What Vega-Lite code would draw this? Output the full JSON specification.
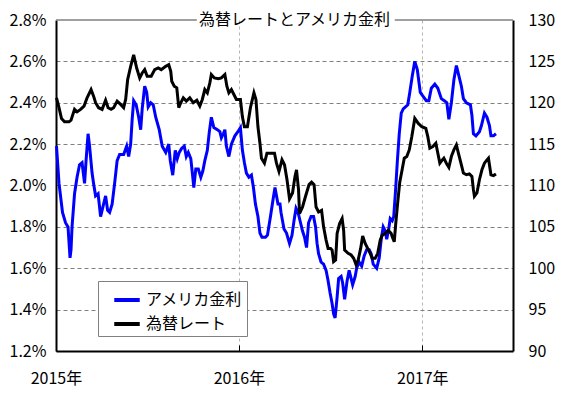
{
  "$schema": "https://vega.github.io/schema/vega-lite/v6.json",
  "width": 457,
  "height": 331,
  "autosize": {"type": "none"},
  "padding": {"left": 56, "top": 20, "right": 53, "bottom": 46},
  "background": "white",
  "config": {
    "font": "Noto Sans CJK JP",
    "view": {"stroke": null}
  },
  "title": {
    "text": "為替レートとアメリカ金利",
    "fontSize": 16,
    "fontWeight": "normal",
    "color": "black",
    "anchor": "middle",
    "frame": "group",
    "offset": -16,
    "dx": 10
  },
  "datasets": {
    "rate": [
      {"date": "2015-01-02", "value": 2.19}, {"date": "2015-01-07", "value": 2.01}, {"date": "2015-01-14", "value": 1.87},
      {"date": "2015-01-20", "value": 1.82}, {"date": "2015-01-25", "value": 1.80}, {"date": "2015-01-29", "value": 1.65},
      {"date": "2015-01-31", "value": 1.69}, {"date": "2015-02-02", "value": 1.80}, {"date": "2015-02-07", "value": 1.96},
      {"date": "2015-02-12", "value": 2.04}, {"date": "2015-02-17", "value": 2.10}, {"date": "2015-02-22", "value": 2.11},
      {"date": "2015-02-27", "value": 2.01}, {"date": "2015-03-02", "value": 2.12}, {"date": "2015-03-06", "value": 2.25},
      {"date": "2015-03-09", "value": 2.19}, {"date": "2015-03-14", "value": 2.06}, {"date": "2015-03-17", "value": 2.01},
      {"date": "2015-03-21", "value": 1.95}, {"date": "2015-03-26", "value": 1.96}, {"date": "2015-03-31", "value": 1.85},
      {"date": "2015-04-05", "value": 1.90}, {"date": "2015-04-10", "value": 1.95}, {"date": "2015-04-14", "value": 1.88},
      {"date": "2015-04-18", "value": 1.87}, {"date": "2015-04-23", "value": 1.91}, {"date": "2015-04-28", "value": 2.01},
      {"date": "2015-05-03", "value": 2.12}, {"date": "2015-05-08", "value": 2.15}, {"date": "2015-05-16", "value": 2.15},
      {"date": "2015-05-22", "value": 2.19}, {"date": "2015-05-26", "value": 2.14}, {"date": "2015-05-30", "value": 2.20},
      {"date": "2015-06-02", "value": 2.32}, {"date": "2015-06-05", "value": 2.41}, {"date": "2015-06-10", "value": 2.39},
      {"date": "2015-06-15", "value": 2.33}, {"date": "2015-06-19", "value": 2.27}, {"date": "2015-06-22", "value": 2.37},
      {"date": "2015-06-27", "value": 2.48}, {"date": "2015-07-01", "value": 2.45}, {"date": "2015-07-04", "value": 2.38},
      {"date": "2015-07-09", "value": 2.40}, {"date": "2015-07-14", "value": 2.39}, {"date": "2015-07-19", "value": 2.33},
      {"date": "2015-07-26", "value": 2.27}, {"date": "2015-08-01", "value": 2.19}, {"date": "2015-08-08", "value": 2.16},
      {"date": "2015-08-14", "value": 2.20}, {"date": "2015-08-17", "value": 2.12}, {"date": "2015-08-22", "value": 2.05},
      {"date": "2015-08-27", "value": 2.17}, {"date": "2015-08-31", "value": 2.13}, {"date": "2015-09-04", "value": 2.16},
      {"date": "2015-09-09", "value": 2.18}, {"date": "2015-09-14", "value": 2.19}, {"date": "2015-09-18", "value": 2.14},
      {"date": "2015-09-22", "value": 2.16}, {"date": "2015-09-27", "value": 2.13}, {"date": "2015-10-01", "value": 2.04},
      {"date": "2015-10-03", "value": 1.99}, {"date": "2015-10-07", "value": 2.08}, {"date": "2015-10-12", "value": 2.08},
      {"date": "2015-10-17", "value": 2.04}, {"date": "2015-10-21", "value": 2.07}, {"date": "2015-10-25", "value": 2.12},
      {"date": "2015-10-30", "value": 2.17}, {"date": "2015-11-03", "value": 2.26}, {"date": "2015-11-07", "value": 2.33},
      {"date": "2015-11-12", "value": 2.28}, {"date": "2015-11-19", "value": 2.27}, {"date": "2015-11-24", "value": 2.26},
      {"date": "2015-11-27", "value": 2.23}, {"date": "2015-12-01", "value": 2.25}, {"date": "2015-12-04", "value": 2.27},
      {"date": "2015-12-07", "value": 2.19}, {"date": "2015-12-12", "value": 2.14}, {"date": "2015-12-17", "value": 2.20},
      {"date": "2015-12-24", "value": 2.24}, {"date": "2015-12-30", "value": 2.26}, {"date": "2016-01-04", "value": 2.28},
      {"date": "2016-01-08", "value": 2.17}, {"date": "2016-01-12", "value": 2.11}, {"date": "2016-01-16", "value": 2.06},
      {"date": "2016-01-21", "value": 2.04}, {"date": "2016-01-26", "value": 2.05}, {"date": "2016-01-30", "value": 1.99},
      {"date": "2016-02-03", "value": 1.91}, {"date": "2016-02-08", "value": 1.85}, {"date": "2016-02-12", "value": 1.77},
      {"date": "2016-02-16", "value": 1.75}, {"date": "2016-02-23", "value": 1.75}, {"date": "2016-02-27", "value": 1.76},
      {"date": "2016-03-04", "value": 1.85}, {"date": "2016-03-09", "value": 1.93}, {"date": "2016-03-13", "value": 1.99},
      {"date": "2016-03-16", "value": 1.95}, {"date": "2016-03-19", "value": 1.91}, {"date": "2016-03-23", "value": 1.91},
      {"date": "2016-03-25", "value": 1.87}, {"date": "2016-03-31", "value": 1.79}, {"date": "2016-04-05", "value": 1.77},
      {"date": "2016-04-11", "value": 1.72}, {"date": "2016-04-16", "value": 1.76}, {"date": "2016-04-20", "value": 1.83},
      {"date": "2016-04-24", "value": 1.89}, {"date": "2016-04-28", "value": 1.87}, {"date": "2016-05-03", "value": 1.82},
      {"date": "2016-05-07", "value": 1.78}, {"date": "2016-05-11", "value": 1.75}, {"date": "2016-05-15", "value": 1.70},
      {"date": "2016-05-19", "value": 1.82}, {"date": "2016-05-24", "value": 1.85}, {"date": "2016-05-29", "value": 1.85},
      {"date": "2016-06-02", "value": 1.80}, {"date": "2016-06-05", "value": 1.72}, {"date": "2016-06-08", "value": 1.67},
      {"date": "2016-06-13", "value": 1.63}, {"date": "2016-06-18", "value": 1.62}, {"date": "2016-06-23", "value": 1.59},
      {"date": "2016-06-27", "value": 1.54}, {"date": "2016-07-01", "value": 1.48}, {"date": "2016-07-05", "value": 1.43},
      {"date": "2016-07-08", "value": 1.38}, {"date": "2016-07-11", "value": 1.36}, {"date": "2016-07-15", "value": 1.46},
      {"date": "2016-07-18", "value": 1.55}, {"date": "2016-07-23", "value": 1.56}, {"date": "2016-07-26", "value": 1.53},
      {"date": "2016-07-30", "value": 1.45}, {"date": "2016-08-04", "value": 1.54}, {"date": "2016-08-08", "value": 1.59},
      {"date": "2016-08-12", "value": 1.55}, {"date": "2016-08-15", "value": 1.52}, {"date": "2016-08-20", "value": 1.56},
      {"date": "2016-08-23", "value": 1.60}, {"date": "2016-08-28", "value": 1.63}, {"date": "2016-09-02", "value": 1.61},
      {"date": "2016-09-07", "value": 1.66}, {"date": "2016-09-12", "value": 1.69}, {"date": "2016-09-17", "value": 1.69},
      {"date": "2016-09-21", "value": 1.67}, {"date": "2016-09-25", "value": 1.62}, {"date": "2016-10-02", "value": 1.60},
      {"date": "2016-10-07", "value": 1.65}, {"date": "2016-10-11", "value": 1.74}, {"date": "2016-10-15", "value": 1.80},
      {"date": "2016-10-19", "value": 1.78}, {"date": "2016-10-22", "value": 1.74}, {"date": "2016-10-26", "value": 1.79},
      {"date": "2016-10-29", "value": 1.84}, {"date": "2016-11-02", "value": 1.83}, {"date": "2016-11-05", "value": 1.85},
      {"date": "2016-11-09", "value": 1.99}, {"date": "2016-11-12", "value": 2.11}, {"date": "2016-11-16", "value": 2.25},
      {"date": "2016-11-20", "value": 2.35}, {"date": "2016-11-24", "value": 2.37}, {"date": "2016-12-03", "value": 2.39},
      {"date": "2016-12-07", "value": 2.45}, {"date": "2016-12-12", "value": 2.53}, {"date": "2016-12-17", "value": 2.60},
      {"date": "2016-12-22", "value": 2.56}, {"date": "2016-12-28", "value": 2.45}, {"date": "2017-01-03", "value": 2.43},
      {"date": "2017-01-09", "value": 2.41}, {"date": "2017-01-14", "value": 2.41}, {"date": "2017-01-19", "value": 2.47},
      {"date": "2017-01-26", "value": 2.49}, {"date": "2017-02-01", "value": 2.47}, {"date": "2017-02-08", "value": 2.42},
      {"date": "2017-02-14", "value": 2.41}, {"date": "2017-02-19", "value": 2.40}, {"date": "2017-02-23", "value": 2.32},
      {"date": "2017-02-28", "value": 2.40}, {"date": "2017-03-05", "value": 2.51}, {"date": "2017-03-10", "value": 2.58},
      {"date": "2017-03-15", "value": 2.53}, {"date": "2017-03-20", "value": 2.48}, {"date": "2017-03-24", "value": 2.42},
      {"date": "2017-03-30", "value": 2.40}, {"date": "2017-04-07", "value": 2.39}, {"date": "2017-04-10", "value": 2.34},
      {"date": "2017-04-13", "value": 2.25}, {"date": "2017-04-18", "value": 2.24}, {"date": "2017-04-25", "value": 2.26},
      {"date": "2017-04-29", "value": 2.29}, {"date": "2017-05-05", "value": 2.35}, {"date": "2017-05-10", "value": 2.33},
      {"date": "2017-05-15", "value": 2.29}, {"date": "2017-05-18", "value": 2.24}, {"date": "2017-05-23", "value": 2.24},
      {"date": "2017-05-28", "value": 2.25}
    ],
    "fx": [
      {"date": "2015-01-02", "value": 120.6}, {"date": "2015-01-07", "value": 119.4}, {"date": "2015-01-12", "value": 118.1},
      {"date": "2015-01-18", "value": 117.7}, {"date": "2015-01-27", "value": 117.7}, {"date": "2015-01-31", "value": 117.9},
      {"date": "2015-02-07", "value": 119.2}, {"date": "2015-02-12", "value": 118.9}, {"date": "2015-02-19", "value": 119.2},
      {"date": "2015-02-26", "value": 119.6}, {"date": "2015-03-04", "value": 120.6}, {"date": "2015-03-12", "value": 121.6},
      {"date": "2015-03-17", "value": 120.8}, {"date": "2015-03-21", "value": 120.0}, {"date": "2015-03-27", "value": 119.4},
      {"date": "2015-04-03", "value": 119.2}, {"date": "2015-04-10", "value": 120.3}, {"date": "2015-04-15", "value": 119.4},
      {"date": "2015-04-21", "value": 119.2}, {"date": "2015-04-26", "value": 119.4}, {"date": "2015-05-03", "value": 120.2},
      {"date": "2015-05-10", "value": 119.8}, {"date": "2015-05-16", "value": 119.4}, {"date": "2015-05-20", "value": 120.4},
      {"date": "2015-05-24", "value": 122.8}, {"date": "2015-05-30", "value": 124.4}, {"date": "2015-06-05", "value": 125.8},
      {"date": "2015-06-11", "value": 124.2}, {"date": "2015-06-17", "value": 123.0}, {"date": "2015-06-22", "value": 123.6},
      {"date": "2015-06-27", "value": 124.0}, {"date": "2015-07-02", "value": 123.2}, {"date": "2015-07-10", "value": 123.2},
      {"date": "2015-07-17", "value": 124.0}, {"date": "2015-07-24", "value": 124.2}, {"date": "2015-07-30", "value": 124.0},
      {"date": "2015-08-08", "value": 124.4}, {"date": "2015-08-14", "value": 124.6}, {"date": "2015-08-18", "value": 123.8},
      {"date": "2015-08-20", "value": 122.6}, {"date": "2015-08-25", "value": 122.0}, {"date": "2015-08-30", "value": 121.8},
      {"date": "2015-09-03", "value": 119.4}, {"date": "2015-09-07", "value": 120.0}, {"date": "2015-09-12", "value": 120.6},
      {"date": "2015-09-18", "value": 120.2}, {"date": "2015-09-25", "value": 120.6}, {"date": "2015-10-02", "value": 120.0},
      {"date": "2015-10-09", "value": 120.3}, {"date": "2015-10-15", "value": 119.6}, {"date": "2015-10-20", "value": 120.4},
      {"date": "2015-10-25", "value": 121.6}, {"date": "2015-10-30", "value": 121.2}, {"date": "2015-11-04", "value": 122.4},
      {"date": "2015-11-07", "value": 123.4}, {"date": "2015-11-13", "value": 123.0}, {"date": "2015-11-21", "value": 122.9},
      {"date": "2015-11-27", "value": 123.0}, {"date": "2015-12-04", "value": 123.4}, {"date": "2015-12-08", "value": 122.0},
      {"date": "2015-12-12", "value": 121.2}, {"date": "2015-12-17", "value": 121.6}, {"date": "2015-12-22", "value": 121.0},
      {"date": "2015-12-27", "value": 120.4}, {"date": "2016-01-04", "value": 120.4}, {"date": "2016-01-08", "value": 118.3},
      {"date": "2016-01-12", "value": 117.1}, {"date": "2016-01-18", "value": 117.1}, {"date": "2016-01-24", "value": 119.4},
      {"date": "2016-01-31", "value": 121.2}, {"date": "2016-02-04", "value": 120.4}, {"date": "2016-02-08", "value": 117.1},
      {"date": "2016-02-12", "value": 115.1}, {"date": "2016-02-15", "value": 113.3}, {"date": "2016-02-21", "value": 112.7},
      {"date": "2016-02-26", "value": 113.9}, {"date": "2016-03-04", "value": 113.9}, {"date": "2016-03-12", "value": 113.9},
      {"date": "2016-03-16", "value": 112.7}, {"date": "2016-03-21", "value": 111.7}, {"date": "2016-03-27", "value": 113.1},
      {"date": "2016-04-01", "value": 112.5}, {"date": "2016-04-06", "value": 110.7}, {"date": "2016-04-11", "value": 108.4},
      {"date": "2016-04-17", "value": 109.1}, {"date": "2016-04-22", "value": 111.1}, {"date": "2016-04-25", "value": 111.9},
      {"date": "2016-04-29", "value": 109.5}, {"date": "2016-05-01", "value": 106.6}, {"date": "2016-05-07", "value": 107.4},
      {"date": "2016-05-13", "value": 108.7}, {"date": "2016-05-20", "value": 110.1}, {"date": "2016-05-25", "value": 110.4},
      {"date": "2016-05-30", "value": 110.1}, {"date": "2016-06-03", "value": 107.4}, {"date": "2016-06-08", "value": 106.8},
      {"date": "2016-06-14", "value": 107.0}, {"date": "2016-06-18", "value": 105.0}, {"date": "2016-06-23", "value": 103.4},
      {"date": "2016-06-27", "value": 102.4}, {"date": "2016-07-02", "value": 102.4}, {"date": "2016-07-05", "value": 102.2},
      {"date": "2016-07-08", "value": 100.8}, {"date": "2016-07-12", "value": 101.0}, {"date": "2016-07-15", "value": 104.2},
      {"date": "2016-07-20", "value": 105.4}, {"date": "2016-07-25", "value": 106.0}, {"date": "2016-07-28", "value": 104.6},
      {"date": "2016-07-30", "value": 102.2}, {"date": "2016-08-06", "value": 101.8}, {"date": "2016-08-12", "value": 101.6},
      {"date": "2016-08-17", "value": 101.2}, {"date": "2016-08-22", "value": 100.4}, {"date": "2016-08-26", "value": 101.0},
      {"date": "2016-08-31", "value": 102.4}, {"date": "2016-09-04", "value": 103.9}, {"date": "2016-09-09", "value": 103.0},
      {"date": "2016-09-14", "value": 102.4}, {"date": "2016-09-19", "value": 101.8}, {"date": "2016-09-23", "value": 101.2},
      {"date": "2016-09-29", "value": 101.2}, {"date": "2016-10-04", "value": 101.8}, {"date": "2016-10-09", "value": 103.4},
      {"date": "2016-10-13", "value": 104.0}, {"date": "2016-10-19", "value": 104.2}, {"date": "2016-10-25", "value": 104.6},
      {"date": "2016-10-31", "value": 104.2}, {"date": "2016-11-02", "value": 103.8}, {"date": "2016-11-06", "value": 103.2},
      {"date": "2016-11-09", "value": 105.4}, {"date": "2016-11-13", "value": 108.0}, {"date": "2016-11-17", "value": 110.4},
      {"date": "2016-11-22", "value": 112.0}, {"date": "2016-11-26", "value": 113.3}, {"date": "2016-12-01", "value": 113.5},
      {"date": "2016-12-06", "value": 114.3}, {"date": "2016-12-11", "value": 115.9}, {"date": "2016-12-17", "value": 118.1},
      {"date": "2016-12-24", "value": 117.5}, {"date": "2016-12-31", "value": 117.1}, {"date": "2017-01-08", "value": 116.9},
      {"date": "2017-01-12", "value": 115.9}, {"date": "2017-01-16", "value": 114.5}, {"date": "2017-01-22", "value": 114.7},
      {"date": "2017-01-28", "value": 115.1}, {"date": "2017-02-01", "value": 113.9}, {"date": "2017-02-05", "value": 112.7},
      {"date": "2017-02-10", "value": 113.1}, {"date": "2017-02-13", "value": 113.3}, {"date": "2017-02-18", "value": 112.7},
      {"date": "2017-02-23", "value": 112.2}, {"date": "2017-02-28", "value": 113.5}, {"date": "2017-03-05", "value": 114.3},
      {"date": "2017-03-10", "value": 114.9}, {"date": "2017-03-14", "value": 113.9}, {"date": "2017-03-20", "value": 112.5},
      {"date": "2017-03-24", "value": 111.5}, {"date": "2017-03-30", "value": 111.3}, {"date": "2017-04-05", "value": 111.4},
      {"date": "2017-04-10", "value": 111.1}, {"date": "2017-04-13", "value": 109.5}, {"date": "2017-04-15", "value": 108.7},
      {"date": "2017-04-20", "value": 109.1}, {"date": "2017-04-25", "value": 110.7}, {"date": "2017-04-30", "value": 111.9},
      {"date": "2017-05-05", "value": 112.7}, {"date": "2017-05-10", "value": 113.1}, {"date": "2017-05-13", "value": 113.3},
      {"date": "2017-05-18", "value": 111.3}, {"date": "2017-05-23", "value": 111.2}, {"date": "2017-05-28", "value": 111.4}
    ]
  },
  "layer": [
    {
      "layer": [
        {
          "data": {"name": "rate"},
          "mark": {"type": "line", "strokeWidth": 3},
          "encoding": {
            "x": {
              "field": "date", "type": "temporal",
              "scale": {"domain": [{"year": 2015, "month": 1, "date": 1}, {"year": 2017, "month": 7, "date": 1}]},
              "axis": {
                "title": null,
                "values": [{"year": 2015, "month": 1, "date": 1}, {"year": 2016, "month": 1, "date": 1}, {"year": 2017, "month": 1, "date": 1}],
                "format": "%Y年",
                "labelFlush": false,
                "grid": true, "gridDash": [3, 3], "gridColor": "#b4b4b4", "gridWidth": 1,
                "domainColor": "black", "domainWidth": 2,
                "ticks": true, "tickSize": -6, "tickColor": "black", "tickWidth": 1,
                "labelPadding": 25, "labelFontSize": 16, "labelColor": "black", "labelFontWeight": "normal"
              }
            },
            "y": {
              "field": "value", "type": "quantitative",
              "scale": {"domain": [1.2, 2.8], "nice": false, "zero": false},
              "axis": {
                "title": null, "orient": "left",
                "values": [1.2, 1.4, 1.6, 1.8, 2.0, 2.2, 2.4, 2.6, 2.8],
                "labelExpr": "format(datum.value, '.1f') + '%'",
                "grid": true, "gridDash": [4, 3], "gridColor": "#808080", "gridWidth": 1,
                "gridOpacity": {"condition": {"test": "datum.value > 2.79 || datum.value < 1.21", "value": 0}, "value": 1},
                "domainColor": "black", "domainWidth": 2, "ticks": false,
                "labelPadding": 10, "labelFontSize": 16, "labelColor": "black"
              }
            },
            "color": {
              "datum": "アメリカ金利", "type": "nominal",
              "scale": {"domain": ["アメリカ金利", "為替レート"], "range": ["#0000ff", "#000000"]},
              "legend": {
                "title": null, "orient": "none", "legendX": 42, "legendY": 261,
                "strokeColor": "#808080", "fillColor": "white", "padding": 4,
                "symbolType": "stroke", "symbolStrokeWidth": 4, "symbolSize": 650, "symbolOffset": 10,
                "labelFontSize": 16, "labelColor": "black", "labelOffset": 4, "rowPadding": 1, "labelLimit": 300
              }
            }
          }
        },
        {
          "data": {"values": [{}]},
          "mark": {"type": "rule", "color": "#808080", "strokeWidth": 1.5},
          "encoding": {
            "x": {"datum": {"year": 2015, "month": 1, "date": 1}, "type": "temporal"},
            "x2": {"datum": {"year": 2015, "month": 10, "date": 9}},
            "y": {"datum": 2.8, "type": "quantitative"}
          }
        },
        {
          "data": {"values": [{}]},
          "mark": {"type": "rule", "color": "#808080", "strokeWidth": 1.5},
          "encoding": {
            "x": {"datum": {"year": 2016, "month": 11, "date": 7}, "type": "temporal"},
            "x2": {"datum": {"year": 2017, "month": 7, "date": 1}},
            "y": {"datum": 2.8, "type": "quantitative"}
          }
        }
      ]
    },
    {
      "data": {"name": "fx"},
      "mark": {"type": "line", "strokeWidth": 3},
      "encoding": {
        "x": {"field": "date", "type": "temporal"},
        "y": {
          "field": "value", "type": "quantitative",
          "scale": {"domain": [90, 130], "nice": false, "zero": false},
          "axis": {
            "title": null, "orient": "right",
            "values": [90, 95, 100, 105, 110, 115, 120, 125, 130],
            "grid": false, "ticks": false,
            "domainColor": "black", "domainWidth": 2,
            "labelPadding": 15, "labelFontSize": 16, "labelColor": "black"
          }
        },
        "color": {"datum": "為替レート", "type": "nominal"}
      }
    }
  ],
  "resolve": {"scale": {"y": "independent"}}
}
